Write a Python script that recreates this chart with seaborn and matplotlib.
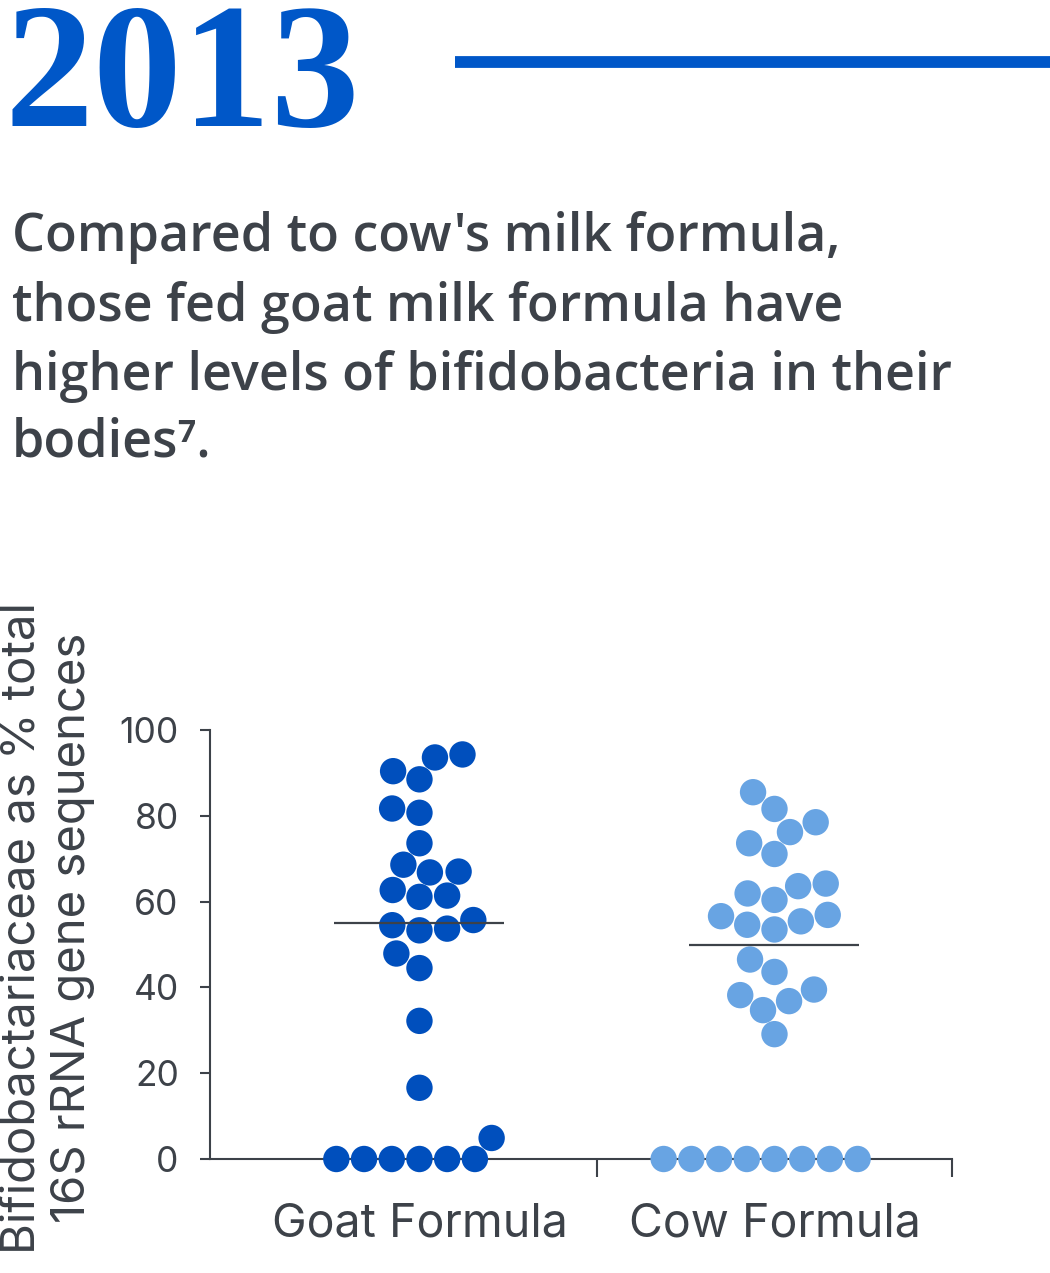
import numpy as np
import pandas as pd
import seaborn as sns
import matplotlib.pyplot as plt
from matplotlib.lines import Line2D

# values (% of total 16S rRNA gene sequences)
goat_values = [93.6, 94.3, 88.5, 90.4, 81.7, 80.7, 73.6, 67.0, 68.6, 66.8,
               61.1, 61.4, 62.7, 54.5, 53.3, 53.7, 55.7, 47.9, 44.5, 32.2,
               16.6, 4.9, 0, 0, 0, 0, 0, 0]
cow_values = [85.5, 81.6, 78.5, 76.2, 73.6, 71.1, 63.6, 64.2, 61.9, 60.4,
              56.9, 55.4, 53.5, 54.6, 56.6, 46.5, 43.6, 39.5, 36.8, 34.7,
              38.2, 29.1, 0, 0, 0, 0, 0, 0, 0, 0]
groups = ["Goat Formula", "Cow Formula"]
y_ticks = [0, 20, 40, 60, 80, 100]
year = "2013"
subtitle_lines = [
    "Compared to cow's milk formula,",
    "those fed goat milk formula have",
    "higher levels of bifidobacteria in their",
    "bodies\u2077.",
]
y_label = "Bifidobactariaceae as % total\n16S rRNA gene sequences"

BLUE = "#0057c8"
GOAT = "#004fbd"
COW = "#68a4e3"
INK = "#3d4249"

df = pd.DataFrame({
    "group": [groups[0]] * len(goat_values) + [groups[1]] * len(cow_values),
    "value": goat_values + cow_values,
})

sns.set_style("ticks")
plt.rcParams["font.family"] = ["Inter", "DejaVu Sans"]

W, H = 1050, 1273
fig = plt.figure(figsize=(W / 100, H / 100), dpi=100)

# ---- header ----
fig.text(4 / W, 1 - 126 / H, year, fontfamily="Liberation Serif", fontweight="bold",
         fontsize=128, color=BLUE, va="baseline", ha="left")
fig.add_artist(Line2D([455 / W, 1.0], [1 - 62 / H] * 2, transform=fig.transFigure,
                      color=BLUE, linewidth=8.5, solid_capstyle="butt"))

# subtitle, sized so the longest line fits the reference width
sub_font = ["Open Sans", "DejaVu Sans"]
probe = fig.text(0, 0, subtitle_lines[2], fontfamily=sub_font, fontweight=600, fontsize=40)
fig.canvas.draw()
w = probe.get_window_extent().width
probe.remove()
sub_size = 40 * 936 / w
baselines = [251, 321, 390, 457]
for line, yb in zip(subtitle_lines, baselines):
    fig.text(12 / W, 1 - yb / H, line, fontfamily=sub_font, fontweight=600,
             fontsize=sub_size, color=INK, va="baseline", ha="left")

# ---- chart ----
ax = fig.add_axes([210 / W, 1 - 1159 / H, (952 - 210) / W, (1159 - 730) / H])

sns.swarmplot(data=df, x="group", y="value", hue="group", order=groups,
              palette={groups[0]: GOAT, groups[1]: COW}, size=19,
              linewidth=0, legend=False, ax=ax, zorder=3)
for coll in ax.collections:
    coll.set_clip_on(False)

sns.pointplot(data=df, x="group", y="value", order=groups, estimator="median",
              errorbar=None, markers="_", linestyle="none", color=INK,
              markersize=122, markeredgewidth=1.6, ax=ax, zorder=5)
for ln in ax.lines:
    ln.set_clip_on(False)

ax.set_xlim(-0.59, 1.5)
ax.set_ylim(0, 100)
ax.set_yticks(y_ticks)
ax.set_xticks([0, 1])
ax.set_xticklabels(groups)
ax.set_xticks([0.5, 1.5], minor=True)
ax.set_xlabel("")
ax.set_ylabel("")

for side in ["top", "right"]:
    ax.spines[side].set_visible(False)
for side in ["left", "bottom"]:
    ax.spines[side].set_color(INK)
    ax.spines[side].set_linewidth(1.5)

ax.tick_params(axis="y", length=7.5, width=1.5, color=INK, pad=15,
               labelsize=25.5, labelcolor=INK)
ax.tick_params(axis="x", which="major", length=0, pad=31, labelsize=33.5, labelcolor=INK)
ax.tick_params(axis="x", which="minor", length=13, width=1.5, color=INK)

fig.text(48 / W, 1 - 928 / H, y_label, rotation=90, ha="center", va="center",
         multialignment="center", fontsize=34, color=INK, linespacing=1.15)

fig.savefig("out.png", dpi=100)
